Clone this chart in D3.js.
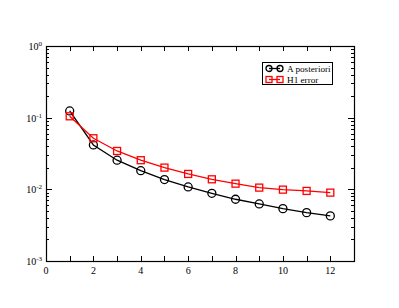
<!DOCTYPE html>
<html>
<head>
<meta charset="utf-8">
<script src="https://cdn.jsdelivr.net/npm/d3@7"></script>
<style>
  body { margin: 0; background: #fff; }
  text { font-family: "Liberation Serif", "DejaVu Serif", serif; fill: #000; }
</style>
</head>
<body>
<div id="chart"></div>
<script>
// mesh refinement step
var steps = [1, 2, 3, 4, 5, 6, 7, 8, 9, 10, 11, 12];
// error estimates
var aPosteriori = [0.124, 0.0416, 0.0255, 0.0182, 0.0137, 0.0108, 0.0088, 0.00727, 0.00625, 0.00538, 0.00473, 0.00426];
var h1Error = [0.1045, 0.0516, 0.0343, 0.0255, 0.0201, 0.0164, 0.0138, 0.0120, 0.01057, 0.0099, 0.0095, 0.0090];
var xTicks = [0, 2, 4, 6, 8, 10, 12];
var yExps = [0, -1, -2, -3];
var seriesNames = ["A posteriori", "H1 error"];

var W = 399, H = 308;
var margin = {top: 46, right: 45, bottom: 47, left: 46},
    width = W - margin.left - margin.right,
    height = H - margin.top - margin.bottom;

var svg = d3.select("#chart").append("svg")
    .attr("width", W)
    .attr("height", H);

var g = svg.append("g")
    .attr("transform", "translate(" + margin.left + "," + margin.top + ")");

var x = d3.scaleLinear().domain([0, 13]).range([0, width]);
var y = d3.scaleLog().domain([1e-3, 1]).range([height, 0]);

// minor log ticks
var minor = [];
yExps.forEach(function(e) {
  if (e == 0) return;
  for (var k = 2; k <= 9; k++) minor.push(k * Math.pow(10, e));
});
var major = yExps.map(function(e) { return Math.pow(10, e); });

// ticks, all pointing inward
var tk = g.append("g").attr("stroke", "#000").attr("stroke-width", 1);
// x ticks bottom and top, each integer
d3.range(0, 14).forEach(function(v) {
  var px = Math.round(x(v)) + 0.5;
  tk.append("line").attr("x1", px).attr("x2", px).attr("y1", height).attr("y2", height - 5);
  tk.append("line").attr("x1", px).attr("x2", px).attr("y1", 0).attr("y2", 5);
});
major.forEach(function(v) {
  var py = Math.round(y(v)) + 0.5;
  tk.append("line").attr("x1", 0).attr("x2", 6).attr("y1", py).attr("y2", py);
  tk.append("line").attr("x1", width).attr("x2", width - 6).attr("y1", py).attr("y2", py);
});
minor.forEach(function(v) {
  var py = Math.round(y(v)) + 0.5;
  tk.append("line").attr("x1", 0).attr("x2", 3).attr("y1", py).attr("y2", py);
  tk.append("line").attr("x1", width).attr("x2", width - 3).attr("y1", py).attr("y2", py);
});

// frame
g.append("rect")
    .attr("x", 0.5).attr("y", 0.5)
    .attr("width", width).attr("height", height)
    .attr("fill", "none").attr("stroke", "#000").attr("stroke-width", 1.2);

// x labels
g.selectAll(".xl").data(xTicks).enter().append("text")
    .attr("x", function(d) { return x(d); })
    .attr("y", height + 13)
    .attr("text-anchor", "middle")
    .style("font-size", "10px")
    .text(function(d) { return d; });

// y labels 10^e
var yl = g.selectAll(".yl").data(yExps).enter().append("text")
    .attr("x", -4)
    .attr("y", function(d) { return y(Math.pow(10, d)) + 4; })
    .attr("text-anchor", "end")
    .style("font-size", "10px");
yl.append("tspan").text("10");
yl.append("tspan").attr("dy", -4).style("font-size", "7px").text(function(d) { return d; });

var line = d3.line()
    .x(function(d) { return x(d[0]); })
    .y(function(d) { return y(d[1]); });

var black = steps.map(function(s, i) { return [s, aPosteriori[i]]; });
var red = steps.map(function(s, i) { return [s, h1Error[i]]; });

g.append("path").datum(black)
    .attr("d", line).attr("fill", "none").attr("stroke", "#000").attr("stroke-width", 1.3);
g.append("path").datum(red)
    .attr("d", line).attr("fill", "none").attr("stroke", "#ff0000").attr("stroke-width", 1.3);

g.selectAll(".circ").data(black).enter().append("circle")
    .attr("cx", function(d) { return x(d[0]); })
    .attr("cy", function(d) { return y(d[1]); })
    .attr("r", 4)
    .attr("fill", "none").attr("stroke", "#000").attr("stroke-width", 1.3);

g.selectAll(".sq").data(red).enter().append("rect")
    .attr("x", function(d) { return x(d[0]) - 3.5; })
    .attr("y", function(d) { return y(d[1]) - 3.5; })
    .attr("width", 7).attr("height", 7)
    .attr("fill", "none").attr("stroke", "#ff0000").attr("stroke-width", 1.3);

// legend
var lg = svg.append("g").attr("transform", "translate(262,62)");
lg.append("rect").attr("x", 0.5).attr("y", 0.5).attr("width", 70).attr("height", 22)
    .attr("fill", "#fff").attr("stroke", "#000").attr("stroke-width", 1);
var colors = ["#000", "#ff0000"];
seriesNames.forEach(function(name, i) {
  var yy = 6.5 + i * 11;
  lg.append("line").attr("x1", 7).attr("x2", 18).attr("y1", yy).attr("y2", yy)
      .attr("stroke", colors[i]).attr("stroke-width", 1.3);
  [7, 18].forEach(function(cx) {
    if (i == 0) {
      lg.append("circle").attr("cx", cx).attr("cy", yy).attr("r", 3)
          .attr("fill", "none").attr("stroke", colors[i]).attr("stroke-width", 1.3);
    } else {
      lg.append("rect").attr("x", cx - 3).attr("y", yy - 3).attr("width", 6).attr("height", 6)
          .attr("fill", "none").attr("stroke", colors[i]).attr("stroke-width", 1.3);
    }
  });
  lg.append("text").attr("x", 25).attr("y", yy + 3.5)
      .style("font-size", "9.2px").text(name);
});
</script>
</body>
</html>
